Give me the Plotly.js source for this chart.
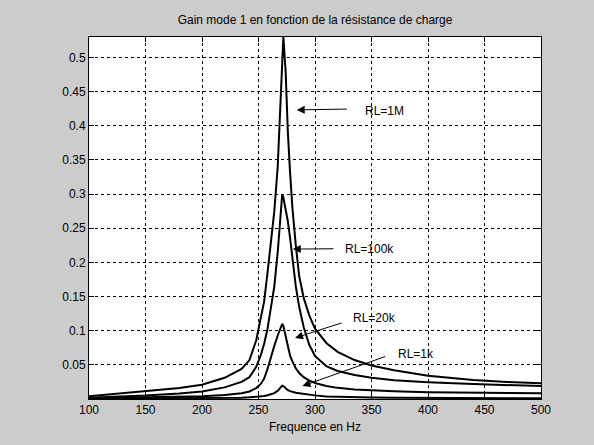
<!DOCTYPE html>
<html>
<head>
<meta charset="utf-8">
<script src="https://cdn.plot.ly/plotly-3.0.1.min.js"></script>
<style>html,body{margin:0;padding:0;background:#cccccc;}#plot{width:594px;height:445px;}</style>
</head>
<body>
<div id="plot"></div>
<script>
// Frequencies (Hz)
const freq = [100, 120, 150, 180, 200, 220, 235, 242, 248, 252, 255, 258, 261, 264, 267, 269, 271, 272, 274, 276, 278, 280, 283, 286, 290, 295, 300, 310, 320, 335, 350, 370, 400, 440, 470, 500];
// Gain for each load resistance
const gain1M   = [0.004, 0.007, 0.011, 0.016, 0.021, 0.031, 0.044, 0.057, 0.086, 0.117, 0.143, 0.185, 0.235, 0.275, 0.34, 0.42, 0.50, 0.53, 0.48, 0.39, 0.33, 0.28, 0.225, 0.18, 0.148, 0.122, 0.103, 0.082, 0.069, 0.057, 0.049, 0.042, 0.034, 0.028, 0.025, 0.023];
const gain100k = [0.002, 0.003, 0.005, 0.008, 0.011, 0.017, 0.025, 0.032, 0.047, 0.064, 0.081, 0.103, 0.133, 0.165, 0.215, 0.26, 0.30, 0.295, 0.28, 0.26, 0.235, 0.205, 0.165, 0.135, 0.105, 0.079, 0.063, 0.048, 0.041, 0.035, 0.031, 0.0275, 0.0245, 0.0218, 0.020, 0.019];
const gain20k  = [0.001, 0.0015, 0.002, 0.003, 0.004, 0.0058, 0.0085, 0.011, 0.016, 0.022, 0.030, 0.044, 0.062, 0.078, 0.093, 0.102, 0.110, 0.107, 0.092, 0.074, 0.063, 0.055, 0.045, 0.038, 0.032, 0.027, 0.0235, 0.019, 0.0163, 0.014, 0.0125, 0.0113, 0.010, 0.0093, 0.0088, 0.0085];
const gain1k   = [0.0005, 0.0006, 0.0008, 0.001, 0.0012, 0.0016, 0.002, 0.0025, 0.003, 0.0037, 0.0044, 0.0055, 0.0065, 0.0085, 0.012, 0.0155, 0.0195, 0.019, 0.0155, 0.013, 0.0115, 0.0102, 0.0093, 0.0085, 0.0075, 0.0062, 0.0053, 0.0038, 0.0032, 0.0026, 0.0022, 0.0018, 0.0015, 0.0012, 0.0011, 0.001];

const xTicks = [100, 150, 200, 250, 300, 350, 400, 450, 500];
const yTicks = [0.05, 0.1, 0.15, 0.2, 0.25, 0.3, 0.35, 0.4, 0.45, 0.5];
const yTickText = ['0.05', '0.1', '0.15', '0.2', '0.25', '0.3', '0.35', '0.4', '0.45', '0.5'];

// Labels: text, text anchor (f, gain), arrow tail (f, gain), arrow tip (f, gain)
const labelText = ['RL=1M', 'RL=100k', 'RL=20k', 'RL=1k'];
const labelX = [342.5, 324.5, 331.6, 371.7];
const labelY = [0.422, 0.22, 0.119, 0.066];
const tailX = [329.5, 317.7, 324.8, 363.5];
const tailY = [0.4245, 0.22, 0.112, 0.063];
const tipX = [283.8, 280.3, 282.3, 288.9];
const tipY = [0.4233, 0.2195, 0.0894, 0.019];

const series = [gain1M, gain100k, gain20k, gain1k];
const traces = series.map(g => ({
  x: freq, y: g, type: 'scatter', mode: 'lines',
  line: {color: '#000000', width: 2}, showlegend: false, hoverinfo: 'skip'
}));

const font = {family: 'Liberation Sans, Arial, sans-serif', size: 12, color: '#000000'};
const annotations = [];
for (let i = 0; i < labelText.length; i++) {
  annotations.push({
    x: tipX[i], y: tipY[i], ax: tailX[i], ay: tailY[i],
    xref: 'x', yref: 'y', axref: 'x', ayref: 'y',
    text: '', showarrow: true, arrowhead: 2, arrowsize: 1.6, arrowwidth: 1,
    arrowcolor: '#000000', standoff: 0, startstandoff: 0
  });
  annotations.push({
    x: labelX[i], y: labelY[i], xref: 'x', yref: 'y',
    text: labelText[i], showarrow: false, xanchor: 'left', yanchor: 'middle',
    font: font
  });
}

const axisCommon = {
  showline: true, linecolor: '#000000', linewidth: 1, mirror: 'ticks',
  ticks: 'inside', ticklen: 5, tickcolor: '#000000', tickwidth: 1,
  showgrid: true, gridcolor: '#000000', gridwidth: 1, griddash: '3px,3px',
  zeroline: false, tickfont: font
};

const layout = {
  width: 594, height: 445,
  paper_bgcolor: '#cccccc', plot_bgcolor: '#ffffff',
  margin: {l: 89, r: 53, t: 37, b: 46},
  title: {text: 'Gain mode 1 en fonction de la résistance de charge', font: font,
          x: 0.5304, xanchor: 'center', y: 0.955, yanchor: 'middle'},
  xaxis: Object.assign({}, axisCommon, {
    range: [100, 500], tickvals: xTicks, ticktext: xTicks.map(String),
    title: {text: 'Frequence en Hz', font: font, standoff: 6}
  }),
  yaxis: Object.assign({}, axisCommon, {
    range: [0, 0.53], tickvals: yTicks, ticktext: yTickText
  }),
  annotations: annotations,
  showlegend: false
};

Plotly.newPlot('plot', traces, layout, {displayModeBar: false, staticPlot: true});
</script>
</body>
</html>
